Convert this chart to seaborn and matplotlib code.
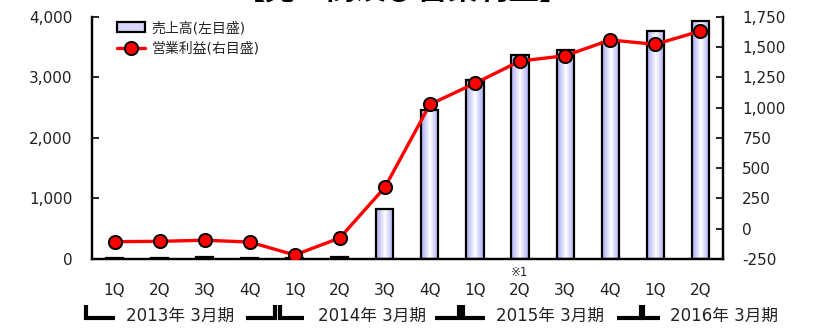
import matplotlib
matplotlib.use("Agg")
import matplotlib.pyplot as plt
import seaborn as sns
import numpy as np
import pandas as pd
from matplotlib.colors import LinearSegmentedColormap
from matplotlib.lines import Line2D
from matplotlib.patches import Patch
from matplotlib.ticker import FuncFormatter
import matplotlib.transforms as mtransforms

# data
quarters = ["1Q", "2Q", "3Q", "4Q", "1Q", "2Q", "3Q", "4Q", "1Q", "2Q", "3Q", "4Q", "1Q", "2Q"]
sales = [22, 22, 25, 22, 18, 28, 821, 2463, 2959, 3372, 3455, 3592, 3774, 3939]
op_profit = [-107, -104, -95, -110, -217, -76, 342, 1028, 1202, 1386, 1430, 1560, 1524, 1634]
periods = ["2013年 3月期", "2014年 3月期", "2015年 3月期", "2016年 3月期"]
# bracket layout in category units: (open x, open arm, close x, close arm, text x)
period_spans = [(-0.63, 0.64, 3.56, 0.64, 1.45),
                (3.67, 0.53, 7.64, 0.53, 5.72),
                (7.73, 0.49, 11.68, 0.53, 9.66),
                (11.73, 0.38, None, 0, 13.52)]
note_index = 9

sns.set_theme(style="white")
plt.rcParams["font.family"] = ["DejaVu Sans", "Noto Sans CJK JP"]

df = pd.DataFrame({"idx": range(len(quarters)), "q": quarters,
                   "sales": sales, "op": op_profit})

fig = plt.figure(figsize=(8.14, 3.28), dpi=100)
ax = fig.add_axes([0.113, 0.2104, 0.775, 0.7378])

sns.barplot(data=df, x="idx", y="sales", ax=ax, width=0.38, facecolor="none",
            edgecolor="black", linewidth=1.6, zorder=3)

# horizontal gradient inside each bar
cmap = LinearSegmentedColormap.from_list("g", ["#a8a8f2", "#ffffff", "#a8a8f2"])
grad = np.linspace(0, 1, 64).reshape(1, -1)
for p in list(ax.patches):
    x0, y0 = p.get_x(), p.get_y()
    im = ax.imshow(grad, extent=[x0, x0 + p.get_width(), y0, y0 + p.get_height()],
                   aspect="auto", cmap=cmap, zorder=2, interpolation="bilinear")
    im.set_clip_path(p)

ax.set_xlim(-0.5, len(quarters) - 0.5)
ax.set_ylim(0, 4000)
ax.set_yticks([0, 1000, 2000, 3000, 4000])
ax.yaxis.set_major_formatter(FuncFormatter(lambda v, _: f"{int(v):,}"))
ax.set_xticks(range(len(quarters)))
ax.set_xticklabels(quarters)
ax.set_xticks(np.arange(-0.5, len(quarters), 1.0), minor=True)
ax.tick_params(axis="x", which="major", length=0, pad=17, labelsize=11, labelcolor="#222222")
ax.tick_params(axis="x", which="minor", direction="in", length=4, width=1.2, color="black")
ax.tick_params(axis="y", direction="in", length=5, width=1.2, color="black",
               pad=14, labelsize=11, labelcolor="#222222", left=True)
ax.set_xlabel("")
ax.set_ylabel("")

ax2 = ax.twinx()
sns.lineplot(data=df, x="idx", y="op", ax=ax2, color="#ff0000", linewidth=2.4,
             marker="o", markersize=9.5, markerfacecolor="#ff0000",
             markeredgecolor="black", markeredgewidth=1.4, zorder=4)
ax2.set_ylim(-250, 1750)
ax2.set_yticks(np.arange(-250, 1751, 250))
ax2.yaxis.set_major_formatter(FuncFormatter(lambda v, _: f"{int(v):,}"))
ax2.tick_params(axis="y", direction="in", length=5, width=1.2, color="black",
                pad=14, labelsize=11, labelcolor="#222222", right=True)
ax2.set_xlabel("")
ax2.set_ylabel("")

for a in (ax, ax2):
    a.spines["top"].set_visible(False)
    for s in ("left", "bottom", "right"):
        a.spines[s].set_color("black")
        a.spines[s].set_linewidth(1.6)

# note mark above one label
trans = mtransforms.blended_transform_factory(ax.transData, ax.transAxes)
ax.text(note_index, -0.055, "※1", transform=trans, ha="center", va="center",
        fontsize=8.5, color="#222222")

# period brackets
by, hy = -0.19, -0.245
for label, (xo, ao, xc, ac, xt) in zip(periods, period_spans):
    ax.add_line(Line2D([xo, xo, xo + ao], [by, hy, hy], transform=trans,
                       color="black", linewidth=3, clip_on=False,
                       solid_joinstyle="miter", solid_capstyle="butt"))
    if xc is not None:
        ax.add_line(Line2D([xc - ac, xc, xc], [hy, hy, by], transform=trans,
                           color="black", linewidth=3, clip_on=False,
                           solid_joinstyle="miter", solid_capstyle="butt"))
    ax.text(xt, -0.235, label, transform=trans, ha="center", va="center",
            fontsize=12, color="#222222")

handles = [Patch(facecolor="#d6d6fa", edgecolor="black", linewidth=1.6),
           Line2D([], [], color="#ff0000", linewidth=2.4, marker="o", markersize=9.5,
                  markerfacecolor="#ff0000", markeredgecolor="black", markeredgewidth=1.4)]
ax2.legend(handles, ["売上高(左目盛)", "営業利益(右目盛)"], loc="upper left",
           bbox_to_anchor=(0.02, 1.035), frameon=False, fontsize=10,
           handlelength=2.0, handletextpad=0.5, labelspacing=0.5)

fig.text(0.495, 1.033, "【売上高及び営業利益】", ha="center", va="center",
         fontsize=22, fontweight="bold", color="black",
         family=["Noto Sans CJK JP", "DejaVu Sans"])

fig.savefig("out.png", dpi=100)
